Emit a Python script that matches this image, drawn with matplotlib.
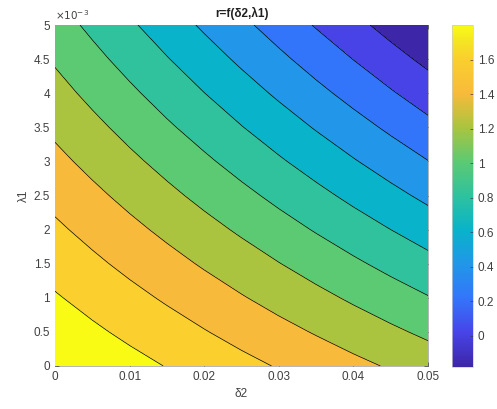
import numpy as np
import matplotlib
matplotlib.use('Agg')
import matplotlib.pyplot as plt
from matplotlib.colors import LinearSegmentedColormap, Normalize
from matplotlib.ticker import FuncFormatter
import matplotlib.cm as cm

# grid of the field r = f(delta2, lambda1)
delta2 = [0, 0.005, 0.01, 0.015, 0.02, 0.025, 0.03, 0.035, 0.04, 0.045, 0.05]
lambda1 = [0, 0.0005, 0.001, 0.0015, 0.002, 0.0025, 0.003, 0.0035, 0.004, 0.0045, 0.005]
r = [
    [1.800, 1.738, 1.676, 1.614, 1.552, 1.490, 1.428, 1.367, 1.305, 1.243, 1.181],
    [1.718, 1.650, 1.583, 1.516, 1.449, 1.381, 1.314, 1.247, 1.179, 1.112, 1.045],
    [1.636, 1.563, 1.490, 1.418, 1.345, 1.272, 1.199, 1.127, 1.054, 0.981, 0.909],
    [1.553, 1.475, 1.397, 1.319, 1.241, 1.163, 1.085, 1.007, 0.929, 0.851, 0.773],
    [1.471, 1.388, 1.304, 1.221, 1.137, 1.054, 0.970, 0.887, 0.803, 0.720, 0.637],
    [1.389, 1.300, 1.211, 1.122, 1.033, 0.945, 0.856, 0.767, 0.678, 0.589, 0.500],
    [1.306, 1.212, 1.118, 1.024, 0.930, 0.835, 0.741, 0.647, 0.553, 0.459, 0.364],
    [1.224, 1.125, 1.025, 0.925, 0.826, 0.726, 0.627, 0.527, 0.428, 0.328, 0.228],
    [1.142, 1.037, 0.932, 0.827, 0.722, 0.617, 0.512, 0.407, 0.302, 0.197, 0.092],
    [1.060, 0.949, 0.839, 0.729, 0.618, 0.508, 0.398, 0.287, 0.177, 0.066, -0.044],
    [0.977, 0.862, 0.746, 0.630, 0.514, 0.399, 0.283, 0.167, 0.052, -0.064, -0.180],
]
cbar_ticks = [0, 0.2, 0.4, 0.6, 0.8, 1.0, 1.2, 1.4, 1.6]

# approximate MATLAB parula
parula = LinearSegmentedColormap.from_list('parula', [
    (0.00, (0.2422, 0.1504, 0.6603)),
    (0.10, (0.2780, 0.2650, 0.9100)),
    (0.20, (0.2000, 0.4600, 0.9800)),
    (0.30, (0.1300, 0.5900, 0.9100)),
    (0.40, (0.0350, 0.7000, 0.7900)),
    (0.50, (0.1800, 0.7600, 0.6200)),
    (0.60, (0.3600, 0.7900, 0.4500)),
    (0.70, (0.6600, 0.7700, 0.2500)),
    (0.80, (0.9700, 0.7300, 0.2300)),
    (0.90, (0.9800, 0.8100, 0.1800)),
    (0.95, (0.9600, 0.8900, 0.1400)),
    (1.00, (0.9769, 0.9839, 0.0805)),
])

plt.rcParams['font.family'] = ['Liberation Sans', 'DejaVu Sans']
txt = '#404040'

X, Y = np.meshgrid(delta2, lambda1)
Z = np.array(r)
levels = np.linspace(Z.min(), Z.max(), 12)
# MATLAB fills each band with the colour of its lower level
band_colors = [parula(k / 10) for k in range(11)]

fig = plt.figure(figsize=(4.97, 4.09), dpi=100)
ax = fig.add_axes([55 / 497, 43 / 409, 373 / 497, 341 / 409])
ax.contourf(X, Y, Z, levels=levels, colors=band_colors)
ax.contour(X, Y, Z, levels=levels[1:-1], colors='k', linewidths=0.5)

ax.set_xlim(0, 0.05)
ax.set_ylim(0, 0.005)
ax.set_xticks([0, 0.01, 0.02, 0.03, 0.04, 0.05])
ax.set_yticks(np.arange(0, 0.00501, 0.0005))
ax.xaxis.set_major_formatter(FuncFormatter(lambda v, p: f'{v:g}'))
ax.yaxis.set_major_formatter(FuncFormatter(lambda v, p: f'{round(v * 1e3, 4):g}'))
ax.tick_params(direction='in', length=3, width=0.5, labelsize=8.5, colors=txt,
               top=True, right=True)
ax.set_axisbelow(True)
for s in ax.spines.values():
    s.set_linewidth(0.5)
    s.set_color('#999999')
    s.set_zorder(0.4)

ax.text(0, 1.008, r'$\times10^{-3}$', transform=ax.transAxes, ha='left', va='bottom',
        fontsize=7.5, color=txt)
ax.set_title('r=f(δ2,λ1)', fontsize=8.5, fontweight='bold', color='#202020', pad=6)
ax.set_xlabel('δ2', fontsize=8.5, color=txt, labelpad=4)
ax.set_ylabel('λ1', fontsize=8.5, color=txt, labelpad=3)

cax = fig.add_axes([452 / 497, 42 / 409, 21 / 497, 342 / 409])
sm = cm.ScalarMappable(norm=Normalize(Z.min(), Z.max()), cmap=parula)
cb = fig.colorbar(sm, cax=cax)
cb.set_ticks(cbar_ticks)
cb.set_ticklabels([f'{t:g}' for t in cbar_ticks])
cb.ax.tick_params(direction='in', length=2, width=0.5, labelsize=8.5, colors=txt)
cb.outline.set_linewidth(0.5)
cb.outline.set_edgecolor('#cccccc')

fig.savefig('out.png', dpi=100)
plt.close(fig)
